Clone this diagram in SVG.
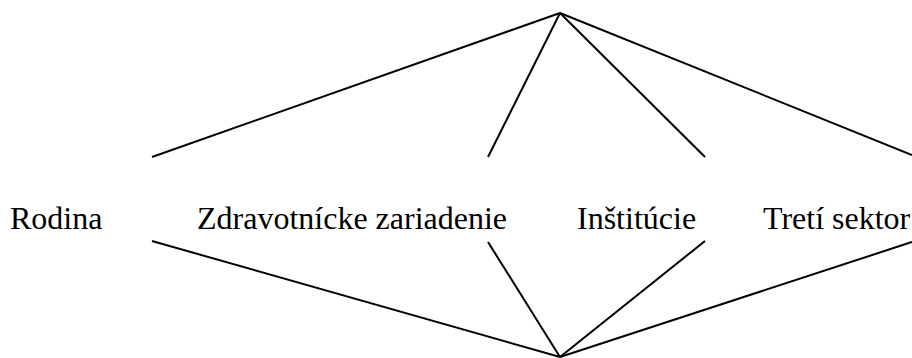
<svg xmlns="http://www.w3.org/2000/svg" width="912" height="358" viewBox="0 0 912 358">
<style>
.c line{stroke:#000;stroke-width:2;stroke-linecap:butt}
.t{font-family:"Liberation Serif","Times New Roman",serif;font-size:32px;fill:#000}
</style>
<rect width="912" height="358" fill="#fff"/>
<g id="connectors" class="c">
<line x1="560" y1="13" x2="152" y2="157"/>
<line x1="560" y1="13" x2="488" y2="157"/>
<line x1="560" y1="13" x2="705" y2="157"/>
<line x1="560" y1="13" x2="912" y2="155"/>
<line x1="560" y1="357" x2="152" y2="241"/>
<line x1="560" y1="357" x2="488" y2="242"/>
<line x1="560" y1="357" x2="705" y2="241"/>
<line x1="560" y1="357" x2="912" y2="242"/>
</g>
<g id="rodina"><text class="t" x="10" y="229">Rodina</text></g>
<g id="zdravotnicke"><text class="t" x="197" y="229">Zdravotnícke zariadenie</text></g>
<g id="institucie"><text class="t" x="577" y="229">Inštitúcie</text></g>
<g id="treti"><text class="t" x="763" y="229">Tretí sektor</text></g>
</svg>
